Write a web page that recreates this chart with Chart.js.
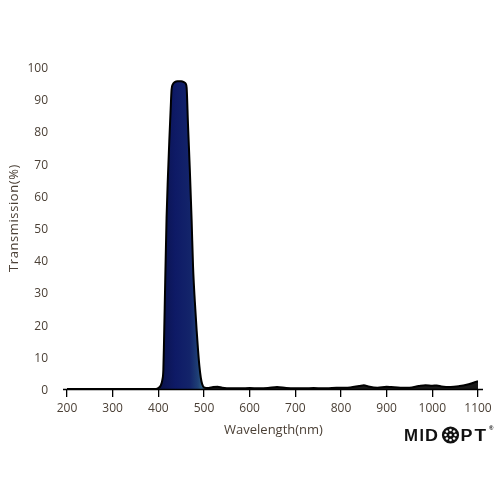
<!DOCTYPE html>
<html>
<head>
<meta charset="utf-8">
<script src="https://cdn.jsdelivr.net/npm/chart.js@4/dist/chart.umd.min.js"></script>
<style>
  html, body { margin: 0; padding: 0; background: #ffffff; }
  #wrap { width: 500px; height: 500px; }
</style>
</head>
<body>
<div id="wrap"><canvas id="c" width="500" height="500"></canvas></div>
<script>
// ---- data ----
const wavelengths = [200, 300, 395, 400, 405, 409, 411, 412.5, 415, 418, 421, 424, 427, 429, 432, 436, 442, 450, 456, 460, 462, 465, 469, 473, 476, 480, 484, 487, 490, 493, 496, 500,
  510, 520, 530, 540, 560, 580, 600, 620, 640, 660, 680, 700, 720, 740, 760, 780, 800, 820, 840, 850, 860, 880, 900, 910, 930, 950, 970, 985, 1000, 1010, 1020, 1040, 1060, 1075, 1085, 1095, 1100];
const transmission = [0, 0, 0, 0.3, 1, 3, 6, 15, 33, 53, 66, 77, 87, 93, 94.7, 95.3, 95.6, 95.6, 95.3, 94.8, 93.5, 82, 68, 52, 38, 27, 18, 12, 7, 3.5, 1.5, 0.5,
  0.3, 0.6, 0.7, 0.4, 0.2, 0.2, 0.3, 0.2, 0.3, 0.6, 0.3, 0.2, 0.2, 0.3, 0.2, 0.3, 0.4, 0.5, 0.9, 1.2, 0.8, 0.4, 0.7, 0.6, 0.4, 0.4, 0.9, 1.2, 1.0, 1.1, 0.8, 0.6, 0.9, 1.3, 1.7, 2.2, 2.4];
const xTicks = [200, 300, 400, 500, 600, 700, 800, 900, 1000, 1100];
const yTicks = [0, 10, 20, 30, 40, 50, 60, 70, 80, 90, 100];
const xTitle = 'Wavelength(nm)';
const yTitle = 'Transmission(%)';

const TEXT = '#4b4036';
const FONT = '"Open Sans", "DejaVu Sans", sans-serif';

const points = wavelengths.map((w, i) => ({ x: w, y: transmission[i] }));

const extras = {
  id: 'extras',
  afterDraw(chart) {
    const { ctx, chartArea } = chart;
    ctx.save();
    // extended x axis line
    ctx.strokeStyle = '#000';
    ctx.lineWidth = 1.5;
    ctx.beginPath();
    ctx.moveTo(chartArea.left - 4, chartArea.bottom + 0.5);
    ctx.lineTo(chartArea.right + 5, chartArea.bottom + 0.5);
    ctx.stroke();

    // axis titles
    ctx.fillStyle = TEXT;
    ctx.font = '13px ' + FONT;
    ctx.textAlign = 'center';
    ctx.textBaseline = 'middle';
    ctx.fillText(xTitle, (chartArea.left + chartArea.right) / 2 + 1, 430);
    ctx.save();
    ctx.translate(14, 218);
    ctx.rotate(-Math.PI / 2);
    try { ctx.letterSpacing = '0.6px'; } catch (e) {}
    ctx.fillText(yTitle, 0, 0);
    ctx.restore();

    // MIDOPT logo
    ctx.fillStyle = '#111';
    ctx.font = 'bold 16px "Liberation Sans", Arial, sans-serif';
    ctx.textAlign = 'left';
    ctx.textBaseline = 'alphabetic';
    const letters = [['M', 404, 1.05], ['I', 419.6, 1], ['D', 425, 1.12], ['P', 460.5, 1.12], ['T', 474.5, 1.18]];
    letters.forEach(([ch, x, sx]) => {
      ctx.save();
      ctx.translate(x, 441);
      ctx.scale(sx, 1);
      ctx.fillText(ch, 0, 0);
      ctx.restore();
    });
    ctx.beginPath();
    ctx.arc(450.5, 435, 8.6, 0, Math.PI * 2);
    ctx.fill();
    ctx.fillStyle = '#fff';
    const dots = [[0, 0]];
    for (let k = 0; k < 8; k++) {
      const a = k * Math.PI / 4;
      dots.push([Math.cos(a) * 5, Math.sin(a) * 5]);
    }
    dots.forEach(([dx, dy]) => {
      ctx.beginPath();
      ctx.arc(450.5 + dx, 435 + dy, 1.3, 0, Math.PI * 2);
      ctx.fill();
    });
    ctx.fillStyle = '#111';
    ctx.font = 'bold 6px "Liberation Sans", Arial, sans-serif';
    ctx.fillText('®', 489, 430);
    ctx.restore();
  }
};

new Chart(document.getElementById('c'), {
  type: 'line',
  data: {
    datasets: [{
      data: points,
      borderColor: '#000',
      borderWidth: 2,
      pointRadius: 0,
      cubicInterpolationMode: 'monotone',
      fill: 'origin',
      backgroundColor: (context) => {
        const { chart } = context;
        const { ctx, chartArea, scales } = chart;
        if (!chartArea) return '#101c66';
        const x0 = scales.x.getPixelForValue(400);
        const x1 = scales.x.getPixelForValue(506);
        const g = ctx.createLinearGradient(x0, 0, x1, 0);
        g.addColorStop(0, '#0a1248');
        g.addColorStop(0.35, '#0e1a66');
        g.addColorStop(0.65, '#13246a');
        g.addColorStop(0.82, '#1f4076');
        g.addColorStop(0.9, '#2c5a80');
        g.addColorStop(1, '#1a1a1a');
        return g;
      }
    }]
  },
  options: {
    responsive: false,
    animation: false,
    devicePixelRatio: 1,
    layout: { padding: { top: 67, right: 22, bottom: 0, left: 0 } },
    plugins: { legend: { display: false }, tooltip: { enabled: false } },
    scales: {
      x: {
        type: 'linear',
        min: 200, max: 1100,
        afterBuildTicks: (s) => { s.ticks = xTicks.map(v => ({ value: v })); },
        afterFit: (s) => { s.height = 111; },
        grid: { display: true, drawOnChartArea: false, drawTicks: true, tickLength: 8, color: '#000', lineWidth: 1.3 },
        border: { display: false },
        ticks: { color: TEXT, font: { family: FONT, size: 12 }, padding: 4, maxRotation: 0,
                 callback: (v) => String(v) }
      },
      y: {
        min: 0, max: 100,
        afterBuildTicks: (s) => { s.ticks = yTicks.map(v => ({ value: v })); },
        afterFit: (s) => { s.width = 67; },
        grid: { display: false, drawTicks: false },
        border: { display: false },
        ticks: { color: TEXT, font: { family: FONT, size: 12 }, padding: 19, labelOffset: 1.5,
                 callback: (v) => String(v) }
      }
    }
  },
  plugins: [extras]
});
</script>
</body>
</html>
